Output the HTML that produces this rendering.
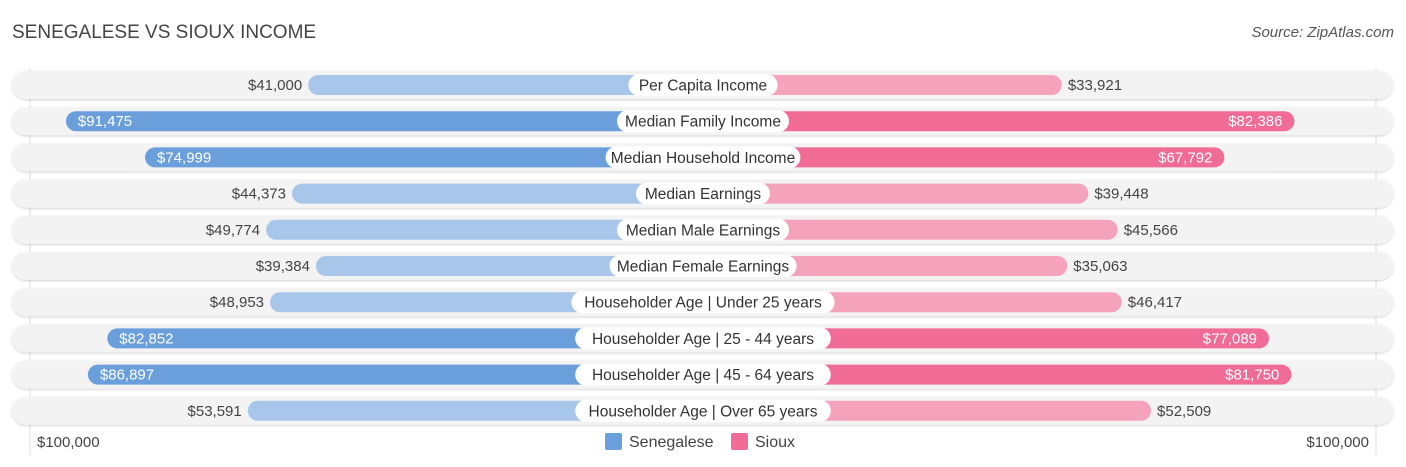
<!DOCTYPE html>
<html><head><meta charset="utf-8"><style>
body{margin:0;width:1406px;height:467px;background:#fff;font-family:"Liberation Sans",sans-serif;position:relative;overflow:hidden}
.t{position:absolute;white-space:nowrap}
</style></head><body>
<div class="t" style="left:12px;top:22px;font-size:19px;color:#444">SENEGALESE VS SIOUX INCOME</div>
<div class="t" style="right:12px;top:24px;font-size:15px;color:#555;font-style:italic">Source: ZipAtlas.com</div>
<svg id="c" width="1406" height="467" style="position:absolute;left:0;top:0" font-family="Liberation Sans, sans-serif"></svg>
<script>
const categories=["Per Capita Income","Median Family Income","Median Household Income","Median Earnings","Median Male Earnings","Median Female Earnings","Householder Age | Under 25 years","Householder Age | 25 - 44 years","Householder Age | 45 - 64 years","Householder Age | Over 65 years"];
const senegalese=[41000,91475,74999,44373,49774,39384,48953,82852,86897,53591];
const sioux=[33921,82386,67792,39448,45566,35063,46417,77089,81750,52509];
const axisMax=100000;
const svg=document.getElementById('c');const NS='http://www.w3.org/2000/svg';
function mk(t,a,p){const e=document.createElementNS(NS,t);for(const k in a)e.setAttribute(k,a[k]);(p||svg).appendChild(e);return e;}
const cx=703,off=198,scale=480/axisMax;
function xl(v){return cx-off-v*scale;}
function xr(v){return cx+off-2+v*scale;}
function fmt(v){return '$'+v.toLocaleString('en-US');}
const defs=mk('defs',{});
const f=mk('filter',{id:'sh',x:'-5%',y:'-50%',width:'110%',height:'200%'},defs);
mk('feDropShadow',{dx:0,dy:1,stdDeviation:1.2,'flood-color':'#000','flood-opacity':0.18},f);
const g0=mk('line',{x1:30,x2:30,y1:68,y2:455,stroke:'#ddd','stroke-width':1});


const g1=mk('line',{x1:1376,x2:1376,y1:68,y2:455,stroke:'#ddd','stroke-width':1});


categories.forEach((c,i)=>{
 const y=85+i*36.2;
 const bg=mk('rect',{x:12,y:y-14,width:1381,height:28,rx:14,fill:'#f3f3f3',filter:'url(#sh)'});
 
 
 const sv=senegalese[i],rv=sioux[i];
 const dl=sv>60000,dr=rv>60000;
 const lx=xl(sv);
 const b1=mk('rect',{x:lx,y:y-10,width:cx-lx,height:20,rx:10,fill:dl?'#6a9fdb':'#a7c6ea'});
 
 
 const rx2=xr(rv);
 const b2=mk('rect',{x:cx,y:y-10,width:rx2-cx,height:20,rx:10,fill:dr?'#f06b95':'#f5a2bd'});
 
 
 const t1=mk('text',{x:dl?lx+12:lx-6,y:y+5,'font-size':15,fill:dl?'#fff':'#444','text-anchor':dl?'start':'end'});
 t1.textContent=fmt(sv);
 
 
 const t2=mk('text',{x:dr?rx2-12:rx2+6,y:y+5,'font-size':15,fill:dr?'#fff':'#444','text-anchor':dr?'end':'start'});
 t2.textContent=fmt(rv);
 
 
 const w=c.length*7.6+20;
 const lb=mk('rect',{x:cx-w/2,y:y-11,width:w,height:22,rx:11,fill:'#fff'});
 
 
 const lt=mk('text',{x:cx,y:y+5.5,'font-size':15.5,fill:'#333','text-anchor':'middle'});
 lt.textContent=c;
 
 
});
</script>
<div class="t" style="left:37px;top:434px;font-size:15px;color:#444">$100,000</div>
<div class="t" style="right:37px;top:434px;font-size:15px;color:#444">$100,000</div>
<div class="t" style="left:605px;top:433px;font-size:16px;color:#444"><span style="display:inline-block;width:17px;height:17px;background:#6a9fdb;border-radius:2px;vertical-align:-3px;margin-right:7px"></span>Senegalese</div>
<div class="t" style="left:731px;top:433px;font-size:16px;color:#444"><span style="display:inline-block;width:17px;height:17px;background:#f06b95;border-radius:2px;vertical-align:-3px;margin-right:7px"></span>Sioux</div>
</body></html>
